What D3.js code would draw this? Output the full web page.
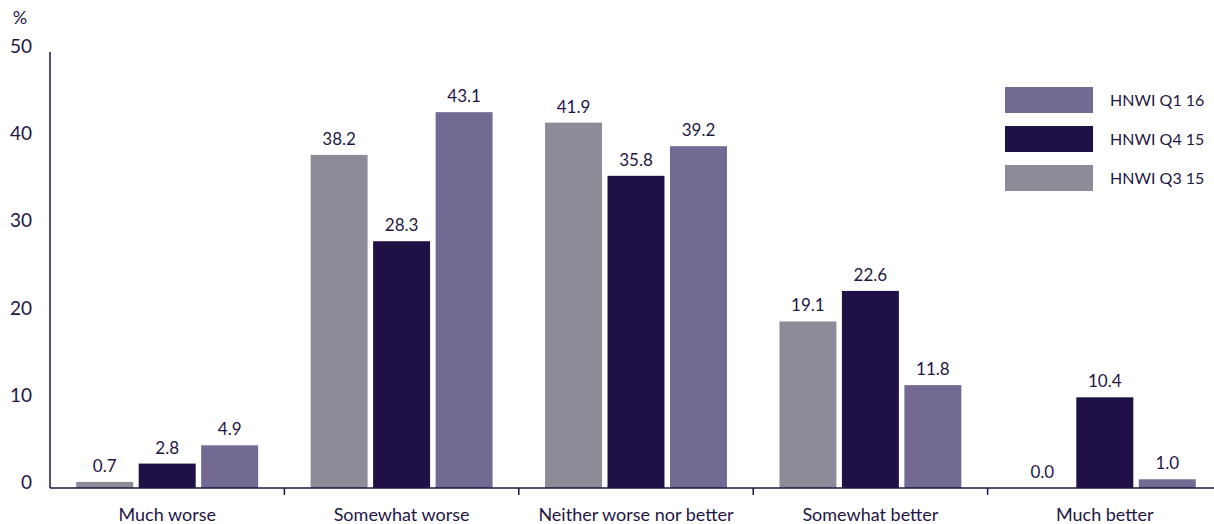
<!DOCTYPE html>
<html>
<head>
<meta charset="utf-8">
<script src="https://d3js.org/d3.v7.min.js"></script>
<style>
  body { margin: 0; background: #fff; }
  text { font-family: Lato, "Noto Sans", sans-serif; fill: #1f1645; }
</style>
</head>
<body>
<div id="chart"></div>
<script>
// data
var categories = ["Much worse", "Somewhat worse", "Neither worse nor better", "Somewhat better", "Much better"];
var seriesNames = ["HNWI Q3 15", "HNWI Q4 15", "HNWI Q1 16"];
var q3_15 = [0.7, 38.2, 41.9, 19.1, 0.0];
var q4_15 = [2.8, 28.3, 35.8, 22.6, 10.4];
var q1_16 = [4.9, 43.1, 39.2, 11.8, 1.0];
var yTicks = [0, 10, 20, 30, 40, 50];
var legendOrder = ["HNWI Q1 16", "HNWI Q4 15", "HNWI Q3 15"];

var colors = {"HNWI Q3 15": "#8e8a98", "HNWI Q4 15": "#1f1045", "HNWI Q1 16": "#736a94"};
var seriesValues = {"HNWI Q3 15": q3_15, "HNWI Q4 15": q4_15, "HNWI Q1 16": q1_16};

var W = 1214, H = 524;
var mLeft = 50, mRight = 1222, mTop = 52, mBottom = 488;

var svg = d3.select("#chart").append("svg")
  .attr("width", W).attr("height", H);

var x0 = d3.scaleBand().domain(categories).range([mLeft, mRight]).paddingInner(0).paddingOuter(0);
var x1 = d3.scaleBand().domain(seriesNames).range([0, x0.bandwidth()])
  .paddingInner(0.088).paddingOuter(0.42);
var y = d3.scaleLinear().domain([0, 50]).range([mBottom, mTop]);

// bars
var groups = svg.selectAll("g.cat")
  .data(categories)
  .enter().append("g")
  .attr("transform", function(d) { return "translate(" + x0(d) + ",0)"; });

groups.selectAll("rect")
  .data(function(c, i) { return seriesNames.map(function(s) { return {s: s, v: seriesValues[s][i]}; }); })
  .enter().append("rect")
  .attr("x", function(d) { return x1(d.s); })
  .attr("y", function(d) { return y(d.v); })
  .attr("width", x1.bandwidth())
  .attr("height", function(d) { return mBottom - y(d.v); })
  .style("fill", function(d) { return colors[d.s]; });

groups.selectAll("text.val")
  .data(function(c, i) { return seriesNames.map(function(s) { return {s: s, v: seriesValues[s][i]}; }); })
  .enter().append("text")
  .attr("class", "val")
  .attr("x", function(d) { return x1(d.s) + x1.bandwidth() / 2; })
  .attr("y", function(d) { return y(d.v) - 10; })
  .attr("text-anchor", "middle")
  .style("font-size", "17px")
  .text(function(d) { return d.v.toFixed(1); });

// x axis
svg.append("line")
  .attr("x1", mLeft).attr("x2", W).attr("y1", mBottom).attr("y2", mBottom)
  .style("stroke", "#1f1645").style("stroke-width", 1.5);

svg.selectAll("line.sep")
  .data(categories.slice(1))
  .enter().append("line")
  .attr("x1", function(d) { return x0(d); })
  .attr("x2", function(d) { return x0(d); })
  .attr("y1", mBottom).attr("y2", mBottom + 7)
  .style("stroke", "#1f1645").style("stroke-width", 1.5);

svg.selectAll("text.cat")
  .data(categories)
  .enter().append("text")
  .attr("x", function(d) { return x0(d) + x0.bandwidth() / 2; })
  .attr("y", 521)
  .attr("text-anchor", "middle")
  .style("font-size", "18px")
  .text(function(d) { return d; });

// y axis
svg.append("line")
  .attr("x1", mLeft).attr("x2", mLeft).attr("y1", mTop).attr("y2", mBottom)
  .style("stroke", "#1f1645").style("stroke-width", 1.5);

svg.selectAll("text.ytick")
  .data(yTicks)
  .enter().append("text")
  .attr("x", 32)
  .attr("y", function(d) { return y(d) + 1; })
  .attr("text-anchor", "end")
  .style("font-size", "19px")
  .text(function(d) { return d; });

svg.append("text")
  .attr("x", 20).attr("y", 24)
  .attr("text-anchor", "middle")
  .style("font-size", "18px")
  .text("%");

// legend
var lg = svg.selectAll("g.leg")
  .data(legendOrder)
  .enter().append("g")
  .attr("transform", function(d, i) { return "translate(1005," + (87 + i * 39) + ")"; });

lg.append("rect")
  .attr("width", 88).attr("height", 26)
  .style("fill", function(d) { return colors[d]; });

lg.append("text")
  .attr("x", 105).attr("y", 19)
  .style("font-size", "16px")
  .text(function(d) { return d; });
</script>
</body>
</html>
